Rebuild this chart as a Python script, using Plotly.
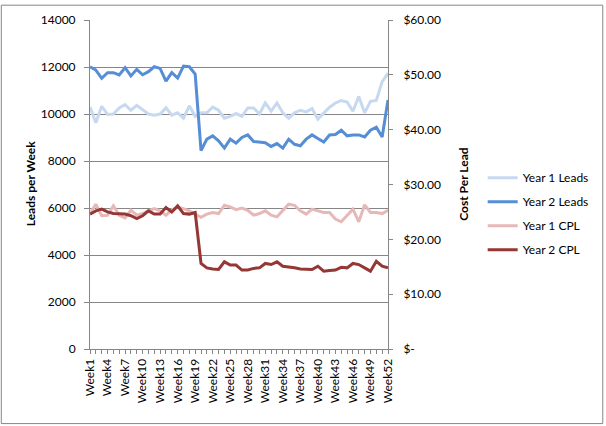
import plotly.graph_objects as go

weeks = [f"Week{i}" for i in range(1, 53)]

year1_leads = [10300, 9630, 10330, 9980, 10000, 10260, 10400, 10160, 10370, 10190,
               10000, 9950, 10000, 10260, 9950, 10050, 9820, 10350, 9900, 10050,
               10050, 10290, 10160, 9820, 9900, 10020, 9900, 10260, 10260, 10000,
               10470, 10120, 10470, 10050, 9820, 10050, 10160, 10090, 10230, 9780,
               10050, 10290, 10470, 10570, 10510, 10120, 10750, 10050, 10540, 10580,
               11380, 11730]
year2_leads = [12010, 11870, 11520, 11760, 11760, 11660, 11970, 11620, 11900, 11670,
               11800, 12010, 11940, 11400, 11760, 11530, 12040, 12010, 11700, 8440,
               8930, 9070, 8860, 8550, 8930, 8760, 9000, 9110, 8830, 8810,
               8780, 8620, 8740, 8550, 8930, 8710, 8650, 8930, 9110, 8960,
               8810, 9110, 9130, 9310, 9070, 9110, 9110, 9020, 9310, 9440,
               9020, 10600]
year1_cpl = [24.7, 26.4, 24.3, 24.4, 26.1, 24.4, 23.9, 25.3, 24.4, 24.7,
             25.2, 25.6, 25.2, 24.4, 25.4, 25.9, 25.6, 25.2, 24.6, 24.0,
             24.6, 24.9, 24.7, 26.2, 25.9, 25.4, 25.7, 25.3, 24.4, 24.7,
             25.2, 24.4, 24.1, 25.3, 26.4, 26.2, 25.2, 24.6, 25.5, 25.2,
             24.9, 24.9, 23.7, 23.2, 24.4, 25.5, 23.2, 26.3, 24.9, 24.9,
             24.7, 25.3]
year2_cpl = [24.6, 25.2, 25.5, 25.0, 24.7, 24.6, 24.6, 24.3, 23.8, 24.3,
             25.2, 24.6, 24.6, 25.8, 25.0, 26.1, 24.7, 24.6, 24.9, 15.6,
             14.8, 14.6, 14.5, 15.9, 15.3, 15.3, 14.4, 14.4, 14.7, 14.8,
             15.6, 15.4, 15.9, 15.1, 15.0, 14.8, 14.6, 14.5, 14.5, 15.1,
             14.2, 14.3, 14.4, 14.9, 14.8, 15.6, 15.4, 14.8, 14.2, 16.0,
             15.1, 14.8]

left_ticks = [0, 2000, 4000, 6000, 8000, 10000, 12000, 14000]
right_ticks = [0, 10, 20, 30, 40, 50, 60]
right_labels = ["$-", "$10.00", "$20.00", "$30.00", "$40.00", "$50.00", "$60.00"]
x_labels = [w if i % 3 == 0 else "" for i, w in enumerate(weeks)]

FONT = "Lato"
GRAY = "#868686"

fig = go.Figure()
series = [
    ("Year 1 Leads", year1_leads, "#C6D9F1", "y"),
    ("Year 2 Leads", year2_leads, "#558ED5", "y"),
    ("Year 1 CPL", year1_cpl, "#E6B9B8", "y2"),
    ("Year 2 CPL", year2_cpl, "#953735", "y2"),
]
for i, (name, vals, col, ax) in enumerate(series):
    fig.add_trace(go.Scatter(x=weeks, y=vals, name=name, mode="lines",
                             line=dict(color=col, width=3), yaxis=ax,
                             legendgroup=f"g{i}"))

W, H = 606, 426
L, R, T, B = 90, 389, 16, 349
pw, ph = R - L, B - T

def px(x):
    return (x - L) / pw

def py(y):
    return (B - y) / ph

fig.update_layout(
    width=W, height=H,
    margin=dict(l=L, r=W - R, t=T, b=H - B, pad=0),
    paper_bgcolor="white", plot_bgcolor="white",
    font=dict(family=FONT, size=12, color="black"),
    showlegend=True,
    legend=dict(x=px(484), y=py(212), xanchor="left", yanchor="middle",
                traceorder="grouped", tracegroupgap=5,
                font=dict(family=FONT, size=12, color="black"),
                itemwidth=30, bgcolor="rgba(0,0,0,0)"),
    xaxis=dict(type="category", range=[0, 51], tickmode="array",
               tickvals=weeks, ticktext=x_labels, tickangle=-90,
               ticks="outside", ticklen=4, tickcolor=GRAY,
               showline=True, linecolor=GRAY, linewidth=1,
               showgrid=False, tickfont=dict(size=12)),
    yaxis=dict(range=[0, 14000], tickvals=left_ticks,
               ticktext=[str(v) for v in left_ticks],
               showgrid=True, gridcolor=GRAY, gridwidth=1,
               showline=True, linecolor=GRAY, linewidth=1,
               ticks="outside", ticklen=5, tickcolor=GRAY,
               ticklabelstandoff=6, zeroline=False,
               tickfont=dict(size=12)),
    yaxis2=dict(range=[0, 60], overlaying="y", side="right",
                tickvals=right_ticks, ticktext=right_labels,
                showgrid=False, showline=True, linecolor=GRAY, linewidth=1,
                ticks="outside", ticklen=4, tickcolor=GRAY,
                ticklabelstandoff=8, zeroline=False,
                tickfont=dict(size=12)),
    annotations=[
        dict(text="<b>Leads per Week</b>", textangle=-90, xref="paper", yref="paper",
             x=px(30), y=py(182), showarrow=False, xanchor="center", yanchor="middle",
             font=dict(family=FONT, size=12, color="black")),
        dict(text="<b>Cost Per Lead</b>", textangle=-90, xref="paper", yref="paper",
             x=px(464), y=py(182), showarrow=False, xanchor="center", yanchor="middle",
             font=dict(family=FONT, size=12, color="black")),
    ],
    shapes=[
        dict(type="rect", xref="paper", yref="paper",
             x0=px(1), x1=px(604.5), y0=py(424.5), y1=py(1),
             line=dict(color=GRAY, width=1), fillcolor="rgba(0,0,0,0)", layer="above"),
    ],
)

fig.write_html("out.html")
